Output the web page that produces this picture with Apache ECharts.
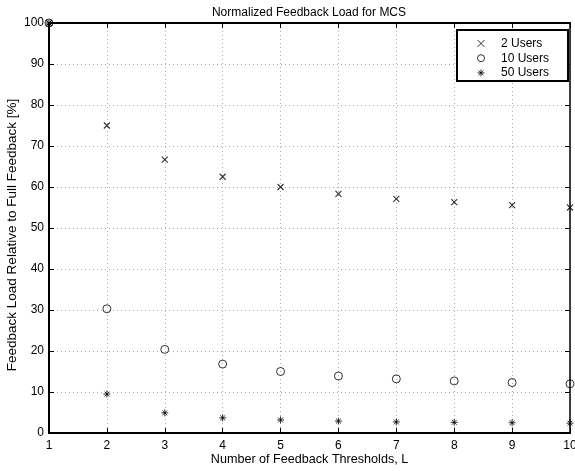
<!DOCTYPE html>
<html>
<head>
<meta charset="utf-8">
<script src="https://cdn.jsdelivr.net/npm/echarts@6/dist/echarts.min.js"></script>
<style>
  html, body { margin: 0; padding: 0; background: #fff; }
  #main { width: 575px; height: 471px; }
</style>
</head>
<body>
<div id="main"></div>
<script>
// thresholds L
var thresholds = [1, 2, 3, 4, 5, 6, 7, 8, 9, 10];
// feedback load [%]
var users2  = [100, 75.0, 66.7, 62.5, 60.0, 58.3, 57.1, 56.3, 55.6, 55.0];
var users10 = [100, 30.3, 20.4, 16.8, 15.0, 13.9, 13.2, 12.7, 12.3, 12.0];
var users50 = [100, 9.5, 4.9, 3.7, 3.2, 2.9, 2.7, 2.6, 2.5, 2.4];
var seriesNames = ['2 Users', '10 Users', '50 Users'];

var FONT = 'Liberation Sans';
var crossPath = 'path://M0,0L10,10M10,0L0,10';
var starPath = 'path://M5,0L5,10M0,5L10,5M1.5,1.5L8.5,8.5M8.5,1.5L1.5,8.5';

function pairs(arr) {
  return thresholds.map(function (x, i) { return [x, arr[i]]; });
}

var myChart = echarts.init(document.getElementById('main'));

var axisTick = { show: true, inside: true, length: 5, lineStyle: { color: '#000', width: 1 } };

option = {
  backgroundColor: '#fff',
  animation: false,
  title: {
    text: 'Normalized Feedback Load for MCS',
    left: 304,
    textAlign: 'center',
    top: 2,
    textStyle: { fontFamily: FONT, fontSize: 12, fontWeight: 'normal', color: '#000' }
  },
  grid: { left: 49, right: 5, top: 23, bottom: 38, outerBoundsMode: 'none' },
  legend: {
    data: seriesNames,
    orient: 'vertical',
    left: 457,
    top: 30,
    itemWidth: 30,
    itemHeight: 7,
    itemGap: 2.7,
    padding: [7.5, 19, 2, 20],
    backgroundColor: '#fff',
    borderColor: '#000',
    borderWidth: 2,
    itemStyle: { borderWidth: 1 },
    textStyle: { fontFamily: FONT, fontSize: 12, color: '#000' }
  },
  xAxis: [{
    type: 'value', min: 1, max: 10, interval: 1,
    name: 'Number of Feedback Thresholds, L',
    nameLocation: 'middle', nameGap: 20, nameMoveOverlap: false,
    nameTextStyle: { fontFamily: FONT, fontSize: 12.6, color: '#000' },
    axisLine: { lineStyle: { color: '#000', width: 2 } },
    axisTick: axisTick,
    axisLabel: { fontFamily: FONT, fontSize: 12, color: '#000', margin: 7 },
    splitLine: { show: true, lineStyle: { color: '#aaa', type: [1, 3], width: 1 } }
  }, {
    type: 'value', min: 1, max: 10, interval: 1, position: 'top',
    axisLine: { show: true, onZero: false, lineStyle: { color: '#000', width: 2 } },
    axisTick: axisTick, axisLabel: { show: false }, splitLine: { show: false }
  }],
  yAxis: [{
    type: 'value', min: 0, max: 100, interval: 10,
    name: 'Feedback Load Relative to Full Feedback [%]',
    nameLocation: 'middle', nameGap: 30, nameMoveOverlap: false,
    nameTextStyle: { fontFamily: FONT, fontSize: 13.5, color: '#000', padding: [0, 14, 0, 0] },
    axisLine: { show: true, lineStyle: { color: '#000', width: 2 } },
    axisTick: axisTick,
    axisLabel: { fontFamily: FONT, fontSize: 12, color: '#000', margin: 5 },
    splitLine: { show: true, lineStyle: { color: '#aaa', type: [1, 3], width: 1 } }
  }, {
    type: 'value', min: 0, max: 100, interval: 10, position: 'right',
    axisLine: { show: true, onZero: false, lineStyle: { color: '#000', width: 1.5 } },
    axisTick: axisTick, axisLabel: { show: false }, splitLine: { show: false }
  }],
  series: [{
    name: seriesNames[0], type: 'scatter', data: pairs(users2),
    symbol: crossPath, symbolSize: 6, clip: false,
    itemStyle: { color: '#000', borderColor: '#000', borderWidth: 1.1 }
  }, {
    name: seriesNames[1], type: 'scatter', data: pairs(users10),
    symbol: 'circle', symbolSize: 8, clip: false,
    itemStyle: { color: 'rgba(255,255,255,0)', borderColor: '#000', borderWidth: 1 }
  }, {
    name: seriesNames[2], type: 'scatter', data: pairs(users50),
    symbol: starPath, symbolSize: 7, clip: false,
    itemStyle: { color: '#000', borderColor: '#000', borderWidth: 1 }
  }]
};

myChart.setOption(option);
</script>
</body>
</html>
